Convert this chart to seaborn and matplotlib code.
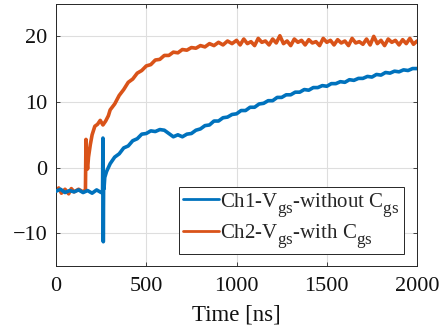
import numpy as np
import pandas as pd
import matplotlib
matplotlib.use("Agg")
import matplotlib.pyplot as plt
import seaborn as sns
import matplotlib._mathtext as _mt

# ---- data ----
t_ch1 = [0, 25, 50, 75, 100, 125, 150, 175, 200, 225, 250, 258, 260, 262, 264, 266, 270, 280,
         300, 325, 350, 375, 400, 425, 450, 475, 500, 525, 550, 575, 600, 625, 650, 675, 700,
         725, 750, 775, 800, 825, 850, 875, 900, 925, 950, 975, 1000, 1025, 1050, 1075, 1100,
         1125, 1150, 1175, 1200, 1225, 1250, 1275, 1300, 1325, 1350, 1375, 1400, 1425, 1450,
         1475, 1500, 1525, 1550, 1575, 1600, 1625, 1650, 1675, 1700, 1725, 1750, 1775, 1800,
         1825, 1850, 1875, 1900, 1925, 1950, 1975, 2000]
v_ch1 = [-3.6, -3.3, -3.8, -3.5, -3.7, -3.4, -3.8, -3.5, -3.9, -3.4, -3.8, -3.5, 4.5, -11.3, -1.0,
         -3.2, -1.5, -0.6, 0.6, 1.6, 2.1, 3.0, 3.3, 4.1, 4.4, 5.1, 5.2, 5.6, 5.5, 5.8, 5.7, 5.2,
         4.7, 5.0, 4.7, 5.1, 5.2, 5.7, 5.9, 6.4, 6.5, 7.1, 7.1, 7.6, 7.7, 8.1, 8.2, 8.7, 8.7, 9.2,
         9.2, 9.7, 9.8, 10.2, 10.2, 10.7, 10.7, 11.1, 11.1, 11.5, 11.5, 11.9, 11.8, 12.2, 12.2,
         12.5, 12.4, 12.8, 12.8, 13.1, 13.0, 13.4, 13.3, 13.6, 13.6, 13.9, 13.8, 14.2, 14.1,
         14.5, 14.4, 14.7, 14.6, 14.9, 14.8, 15.1, 15.1]

t_ch2 = [0, 15, 30, 50, 70, 85, 100, 125, 150, 163, 166, 170, 175, 180, 190, 200, 215, 230, 245,
         260, 275, 290, 300, 325, 350, 375, 400, 425, 450, 475, 500, 525, 550, 575, 600, 625,
         650, 675, 700, 725, 750, 775, 800, 825, 850, 875, 900, 925, 950, 975, 1000, 1020, 1040,
         1060, 1080, 1100, 1120, 1140, 1160, 1180, 1200, 1220, 1240, 1260, 1280, 1300, 1320,
         1340, 1360, 1380, 1400, 1420, 1440, 1460, 1480, 1500, 1520, 1540, 1560, 1580, 1600,
         1620, 1640, 1660, 1680, 1700, 1720, 1740, 1760, 1780, 1800, 1820, 1840, 1860, 1880,
         1900, 1920, 1940, 1960, 1980, 2000]
v_ch2 = [-3.5, -3.1, -3.9, -3.3, -4.0, -3.2, -3.7, -3.3, -3.7, -3.4, 4.3, 1.0, -0.2, 1.6, 3.5,
         5.0, 6.3, 6.6, 7.2, 6.5, 7.1, 7.9, 8.8, 9.7, 11.0, 11.9, 13.0, 13.5, 14.4, 14.8, 15.5,
         15.7, 16.4, 16.5, 17.1, 17.1, 17.6, 17.5, 18.0, 17.9, 18.3, 18.2, 18.6, 18.4, 18.9,
         18.6, 19.1, 18.7, 19.3, 18.9, 19.4, 18.7, 19.6, 18.9, 19.2, 18.6, 19.7, 19.1, 19.3,
         18.7, 19.6, 19.0, 20.1, 18.9, 19.3, 18.6, 19.6, 19.1, 19.4, 18.7, 19.5, 19.0, 19.2,
         18.6, 19.7, 19.1, 19.4, 18.7, 19.5, 19.0, 19.3, 18.6, 19.7, 19.0, 19.2, 18.8, 19.6,
         18.7, 20.0, 18.9, 19.4, 18.6, 19.6, 19.1, 19.4, 18.7, 19.5, 18.9, 19.7, 18.8, 19.3]

label_ch1 = r"Ch1-V$_{\rm gs}$-without C$_{\rm gs}$"
label_ch2 = r"Ch2-V$_{\rm gs}$-with C$_{\rm gs}$"
x_ticks = [0, 500, 1000, 1500, 2000]
y_ticks = [-10, 0, 10, 20]

# MATLAB-like large, deep subscripts
_mt.SHRINK_FACTOR = 0.82
_mt.FontConstantsBase.sub1 = 0.6

sns.set_theme(style="ticks")
plt.rcParams["font.family"] = ["Liberation Serif", "DejaVu Serif"]
plt.rcParams["mathtext.fontset"] = "custom"
plt.rcParams["mathtext.rm"] = "Liberation Serif"
plt.rcParams["mathtext.it"] = "Liberation Serif:italic"

df1 = pd.DataFrame({"t": t_ch1, "v": v_ch1})
df2 = pd.DataFrame({"t": t_ch2, "v": v_ch2})

fig = plt.figure(figsize=(4.48, 3.28), dpi=100)
ax = fig.add_axes([0.125, 0.189, 0.806, 0.800])

sns.lineplot(data=df1, x="t", y="v", ax=ax, color="#0072BD", linewidth=2.6,
             label=label_ch1, sort=False, estimator=None)
sns.lineplot(data=df2, x="t", y="v", ax=ax, color="#D95319", linewidth=2.6,
             label=label_ch2, sort=False, estimator=None)
ax.lines[0].set_zorder(3)

ax.set_xlim(0, 2000)
ax.set_ylim(-15, 25)
ax.set_xticks(x_ticks)
ax.set_yticks(y_ticks)
ax.grid(True, color="#dedede", linewidth=0.8)
ax.tick_params(direction="in", length=3, width=0.6, top=True, right=True,
               labelsize=16, colors="#262626", labelcolor="#111111")
ax.tick_params(axis="x", pad=8)
ax.tick_params(axis="y", pad=6)
ax.set_xlabel("Time [ns]", fontsize=16.5, color="#111111", labelpad=6)
ax.set_ylabel("")
for s in ax.spines.values():
    s.set_color("#262626")
    s.set_linewidth(0.7)

leg = ax.legend(loc="lower right", bbox_to_anchor=(0.975, 0.03), fontsize=15,
                frameon=True, fancybox=False, edgecolor="#262626", framealpha=1,
                handlelength=1.75, handletextpad=0.05, borderpad=0.2, labelspacing=0.15,
                borderaxespad=0.2)
leg.get_frame().set_linewidth(0.7)
for line in leg.get_lines():
    line.set_linewidth(2.0)

fig.savefig("out.png", dpi=100)
